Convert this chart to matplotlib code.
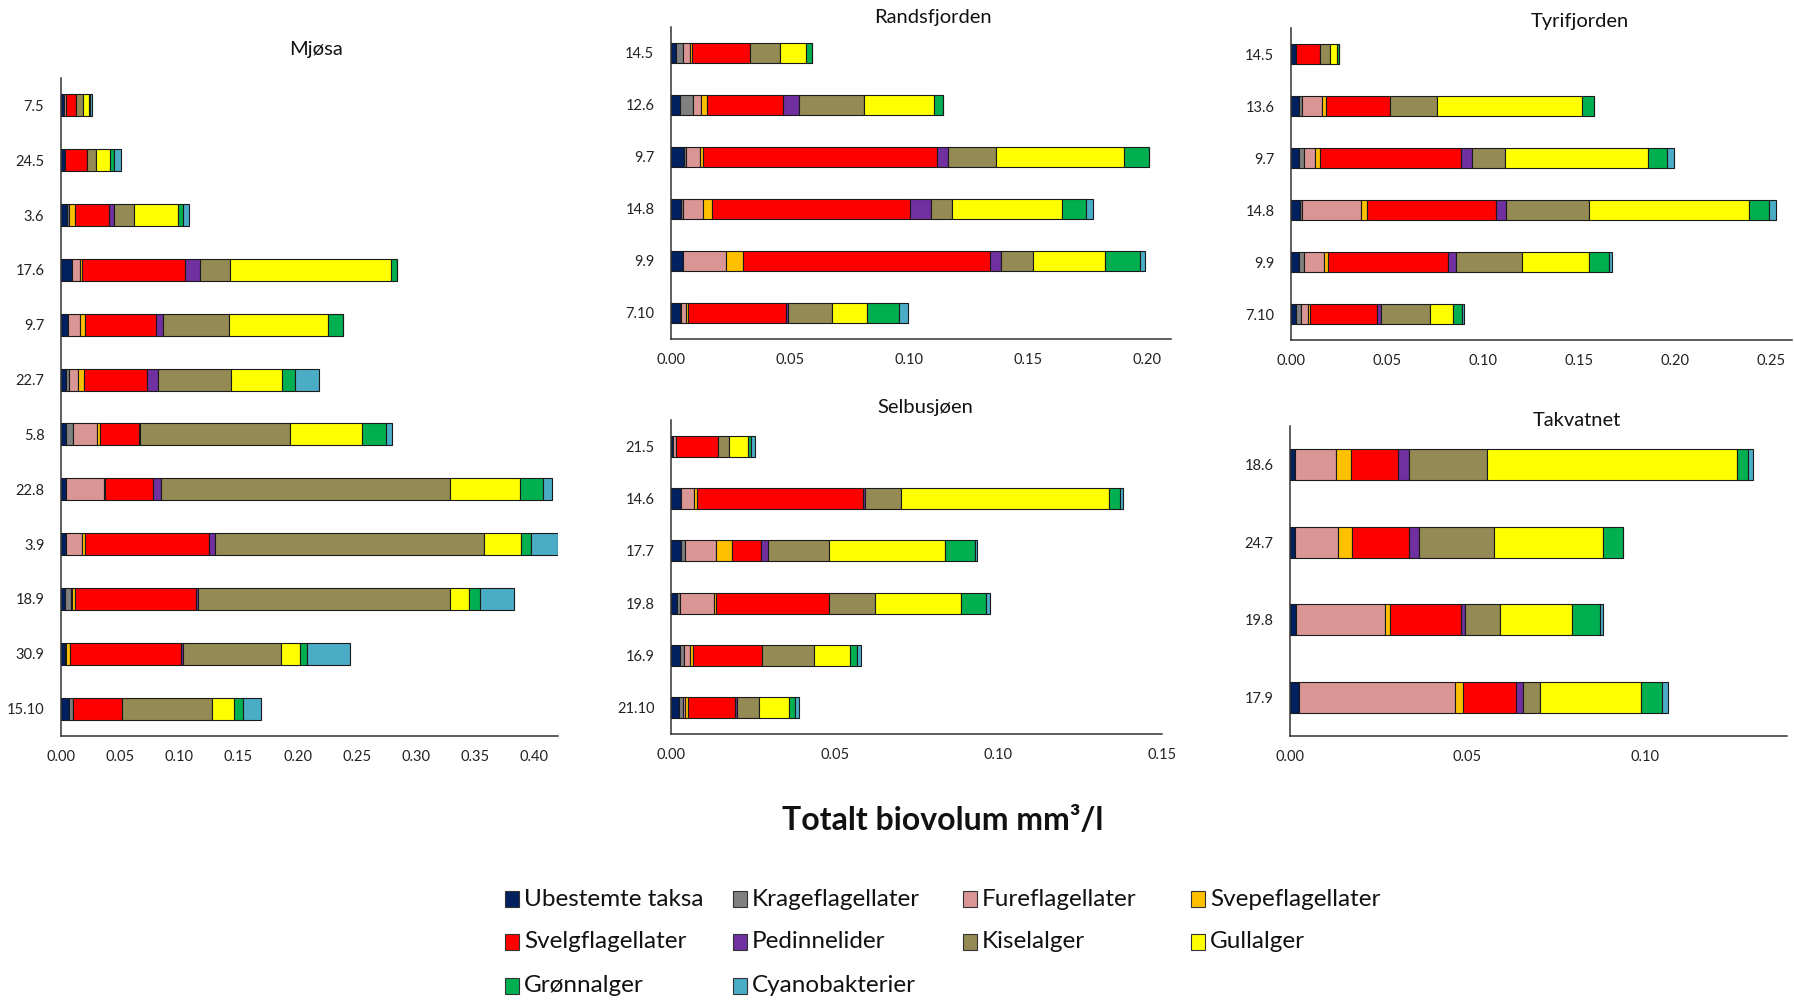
import matplotlib
matplotlib.use("Agg")
import matplotlib.pyplot as plt
import numpy as np
from matplotlib.patches import Rectangle
from matplotlib.ticker import FormatStrFormatter

plt.rcParams['font.family'] = ['Lato', 'DejaVu Sans']

groups = ['Ubestemte taksa', 'Krageflagellater', 'Fureflagellater', 'Svepeflagellater',
          'Svelgflagellater', 'Pedinnelider', 'Kiselalger', 'Gullalger',
          'Grønnalger', 'Cyanobakterier']
colors = ['#002060', '#808080', '#DA9694', '#FFC000', '#FF0000',
          '#7030A0', '#948A54', '#FFFF00', '#00B050', '#4BACC6']

# biovolum per gruppe (mm3/l), samme rekkefølge som groups
mjosa_dates = ['7.5', '24.5', '3.6', '17.6', '9.7', '22.7', '5.8', '22.8', '3.9', '18.9', '30.9', '15.10']
mjosa_vals = [
    [0.0025, 0, 0.002, 0, 0.0083, 0, 0.0062, 0.0043, 0.0008, 0.002],
    [0.003, 0, 0, 0, 0.019, 0, 0.0077, 0.012, 0.003, 0.006],
    [0.005, 0.002, 0, 0.005, 0.0286, 0.0043, 0.0166, 0.037, 0.005, 0.0046],
    [0.0092, 0, 0.0065, 0.002, 0.0868, 0.0132, 0.0252, 0.136, 0.0052, 0],
    [0.006, 0, 0.0098, 0.0043, 0.06, 0.0065, 0.0554, 0.0834, 0.0129, 0],
    [0.0046, 0.0018, 0.0077, 0.0055, 0.0532, 0.0092, 0.0618, 0.043, 0.0108, 0.0203],
    [0.0046, 0.0055, 0.0206, 0.002, 0.0329, 0.0015, 0.1265, 0.0609, 0.02, 0.0055],
    [0.0043, 0, 0.032, 0.001, 0.0406, 0.0065, 0.2443, 0.0594, 0.0191, 0.0074],
    [0.0046, 0, 0.0135, 0.0018, 0.1055, 0.0049, 0.2274, 0.0311, 0.008, 0.0228],
    [0.0037, 0.0046, 0.001, 0.0025, 0.102, 0.002, 0.2132, 0.0154, 0.0098, 0.0286],
    [0.0034, 0, 0.001, 0.0033, 0.0938, 0.0015, 0.083, 0.0163, 0.0055, 0.0366],
    [0.0071, 0.0034, 0, 0, 0.0412, 0, 0.0763, 0.0182, 0.0077, 0.0151],
]

rands_dates = ['14.5', '12.6', '9.7', '14.8', '9.9', '7.10']
rands_vals = [
    [0.0021, 0.0031, 0.0026, 0.0011, 0.0241, 0, 0.0129, 0.0109, 0.0023, 0],
    [0.0037, 0.0056, 0.0032, 0.0026, 0.0319, 0.0066, 0.0274, 0.0296, 0.0035, 0],
    [0.0053, 0.001, 0.006, 0.0013, 0.0983, 0.0043, 0.0203, 0.0539, 0.0105, 0],
    [0.004, 0.0011, 0.0084, 0.0037, 0.083, 0.0088, 0.0092, 0.046, 0.0103, 0.0029],
    [0.005, 0, 0.0183, 0.0068, 0.1039, 0.0047, 0.0135, 0.0301, 0.0148, 0.0021],
    [0.0037, 0.0006, 0.0021, 0.0008, 0.041, 0.0011, 0.0185, 0.0146, 0.0135, 0.0035],
]

tyri_dates = ['14.5', '13.6', '9.7', '14.8', '9.9', '7.10']
tyri_vals = [
    [0.0025, 0, 0, 0, 0.0128, 0, 0.0052, 0.0033, 0.0011, 0],
    [0.0042, 0.0015, 0.0103, 0.0021, 0.0333, 0, 0.0245, 0.0757, 0.0065, 0],
    [0.0044, 0.0023, 0.0057, 0.0029, 0.0734, 0.0057, 0.0172, 0.0745, 0.0098, 0.0038],
    [0.0046, 0.0011, 0.031, 0.0029, 0.067, 0.0052, 0.0433, 0.0833, 0.0105, 0.0038],
    [0.0044, 0.0023, 0.0107, 0.0021, 0.0621, 0.0042, 0.0345, 0.0347, 0.0109, 0.0011],
    [0.0027, 0.0023, 0.0036, 0.0015, 0.0349, 0.0021, 0.0251, 0.0121, 0.005, 0.0008],
]

selbu_dates = ['21.5', '14.6', '17.7', '19.8', '16.9', '21.10']
selbu_vals = [
    [0.0006, 0, 0.0008, 0, 0.0129, 0, 0.0035, 0.0056, 0.0011, 0.0012],
    [0.003, 0, 0.0039, 0.0011, 0.0506, 0.0008, 0.0109, 0.0635, 0.0034, 0.0009],
    [0.003, 0.0013, 0.0096, 0.0047, 0.0088, 0.0023, 0.0187, 0.0352, 0.0092, 0.0006],
    [0.0019, 0.0009, 0.0102, 0.0007, 0.0345, 0, 0.014, 0.0264, 0.0077, 0.0011],
    [0.0026, 0.0014, 0.0019, 0.0008, 0.0212, 0, 0.0159, 0.0109, 0.0022, 0.0011],
    [0.0025, 0.0011, 0.0008, 0.0007, 0.0143, 0.0009, 0.0067, 0.0089, 0.0019, 0.0014],
]

takv_dates = ['18.6', '24.7', '19.8', '17.9']
takv_vals = [
    [0.0013, 0, 0.0116, 0.0042, 0.0134, 0.0029, 0.0222, 0.0704, 0.0031, 0.0012],
    [0.0013, 0, 0.0122, 0.0039, 0.016, 0.003, 0.0212, 0.0305, 0.0056, 0.0002],
    [0.0016, 0, 0.0251, 0.0014, 0.02, 0.0011, 0.0099, 0.0203, 0.008, 0.0008],
    [0.0024, 0, 0.044, 0.0024, 0.0148, 0.002, 0.0047, 0.0287, 0.0059, 0.0016],
]


def stacked(ax, dates, vals, xmax, xmaxtick):
    vals = np.array(vals)
    y = np.arange(len(dates))
    left = np.zeros(len(dates))
    for j in range(len(groups)):
        ax.barh(y, vals[:, j], left=left, height=0.4, color=colors[j],
                edgecolor='#1a1a1a', linewidth=0.8)
        left += vals[:, j]
    ax.set_yticks(y)
    ax.set_yticklabels(dates)
    ax.set_ylim(len(dates) - 0.5, -0.5)
    ax.set_xlim(0, xmax)
    ax.set_xticks(np.arange(0, xmaxtick + 1e-9, 0.05))
    ax.xaxis.set_major_formatter(FormatStrFormatter('%.2f'))
    for s in ['top', 'right']:
        ax.spines[s].set_visible(False)
    for s in ['left', 'bottom']:
        ax.spines[s].set_color('#333333')
        ax.spines[s].set_linewidth(1.1)
    ax.tick_params(axis='both', length=0, labelsize=10.5, colors='#222222')
    ax.tick_params(axis='y', pad=12)
    ax.tick_params(axis='x', pad=10)


W, H = 1795, 1000
fig = plt.figure(figsize=(W / 100, H / 100), dpi=100)


def axes_px(l, r, t, b):
    return fig.add_axes([l / W, 1 - b / H, (r - l) / W, (b - t) / H])


ax1 = axes_px(61, 558, 78, 736)
stacked(ax1, mjosa_dates, mjosa_vals, 0.42, 0.40)
ax2 = axes_px(671, 1171, 27, 339)
stacked(ax2, rands_dates, rands_vals, 0.21, 0.20)
ax3 = axes_px(1291, 1792, 28, 340)
stacked(ax3, tyri_dates, tyri_vals, 0.261, 0.25)
ax4 = axes_px(671, 1162, 420, 734)
stacked(ax4, selbu_dates, selbu_vals, 0.15, 0.15)
ax5 = axes_px(1290, 1787, 426, 736)
stacked(ax5, takv_dates, takv_vals, 0.14, 0.10)

titles = [('Mjøsa', 316, 50), ('Randsfjorden', 933, 18), ('Tyrifjorden', 1580, 21),
          ('Selbusjøen', 925, 407), ('Takvatnet', 1577, 421)]
for name, tx, ty in titles:
    fig.text(tx / W, 1 - ty / H, name, ha='center', va='center', fontsize=14.5, color='#111111')

fig.text(943 / W, 1 - 821 / H, 'Totalt biovolum mm³/l', ha='center', va='center',
         fontsize=23, fontweight='bold', color='#111111')

# legend, 4 kolonner
col_x = [512, 740, 970, 1198]
row_y = [899, 942, 986]
for i, (name, c) in enumerate(zip(groups, colors)):
    cx = col_x[i % 4]
    cy = row_y[i // 4]
    fig.patches.append(Rectangle(((cx - 7) / W, 1 - (cy + 8) / H), 14 / W, 16 / H,
                                 transform=fig.transFigure, facecolor=c,
                                 edgecolor='#333333', linewidth=0.8))
    fig.text((cx + 12) / W, 1 - cy / H, name, ha='left', va='center',
             fontsize=17.5, color='#111111')

fig.savefig('out.png', dpi=100, facecolor='white')
